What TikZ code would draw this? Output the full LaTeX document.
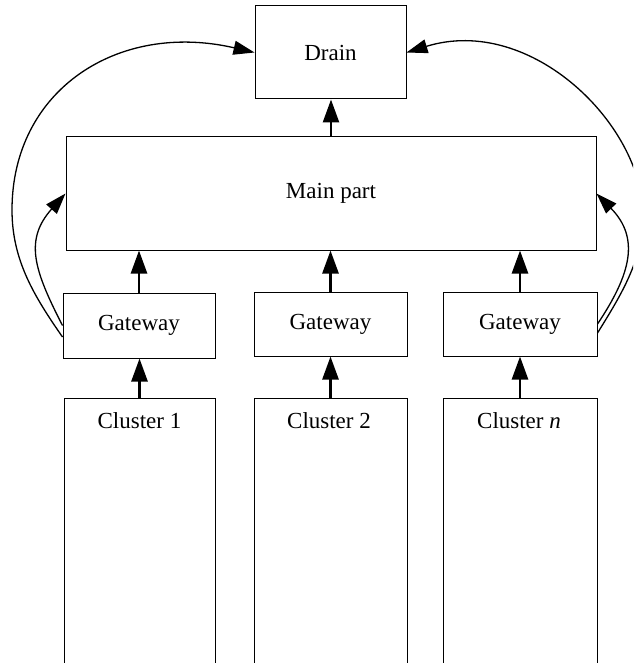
\documentclass[tikz,border=0pt]{standalone}
\usepackage{fontspec}
\setmainfont{Liberation Serif}
\usetikzlibrary{arrows.meta}
\begin{document}
\begin{tikzpicture}[x=1pt,y=-1pt,
  box/.style={draw, line width=1pt, inner sep=0pt, font=\fontsize{23}{27}\selectfont},
  upar/.style={line width=2.6pt, -{Triangle[length=23pt,width=16pt]}},
  bendar/.style={line width=1.3pt, -{Triangle[length=21pt,width=14pt]}},
  lbl/.style={font=\fontsize{23}{27}\selectfont, inner sep=0pt}]
\useasboundingbox (0,0) rectangle (633,663);
\clip (0,0) rectangle (633,663);
% boxes
\node[box, minimum width=151pt, minimum height=93pt] (drain) at (330.5,52.5) {Drain};
\node[box, minimum width=530pt, minimum height=113pt] (main) at (331,193.5) {Main part};
\node[box, minimum width=152pt, minimum height=65pt] (g1) at (139,325.5) {Gateway};
\node[box, minimum width=153pt, minimum height=64pt] (g2) at (330.5,324) {Gateway};
\node[box, minimum width=154pt, minimum height=64pt] (g3) at (520,324) {Gateway};
\node[box, minimum width=151pt, minimum height=320pt, anchor=north] (c1) at (139.5,398) {};
\node[box, minimum width=153pt, minimum height=320pt, anchor=north] (c2) at (330.5,398) {};
\node[box, minimum width=154pt, minimum height=320pt, anchor=north] (c3) at (520,398) {};
\node[lbl] (c1t) at (139.5,421) {Cluster 1};
\node[lbl] (c2t) at (329,421) {Cluster 2};
\node[lbl] (c3t) at (519,421) {Cluster \textit{n}};
% straight arrows
\draw[upar] (main.north) -- (main.north |- drain.south);
\draw[upar] (g1.north) -- (g1.north |- main.south);
\draw[upar] (g2.north) -- (g2.north |- main.south);
\draw[upar] (g3.north) -- (g3.north |- main.south);
\draw[upar] (c1.north) -- (c1.north |- g1.south);
\draw[upar] (c2.north) -- (c2.north |- g2.south);
\draw[upar] (c3.north) -- (c3.north |- g3.south);
% curved arrows
\coordinate (g1o) at ([yshift=-11.5pt]g1.west);
\coordinate (g3o) at ([yshift=-9pt]g3.east);
\draw[bendar] (g1.west) .. controls (34,270) and (24,240) .. (main.west);
\draw[bendar] (g1o) .. controls (34,296) and (12,260) .. (12,210) .. controls (12,90) and (118,21) .. (drain.west);
\draw[bendar] (g3.east) .. controls (631,274) and (640,238) .. (main.east);
\draw[bendar] (g3o) .. controls (621,295) and (643,260) .. (643,215) .. controls (643,125) and (531,14) .. (drain.east);
\end{tikzpicture}
\end{document}
